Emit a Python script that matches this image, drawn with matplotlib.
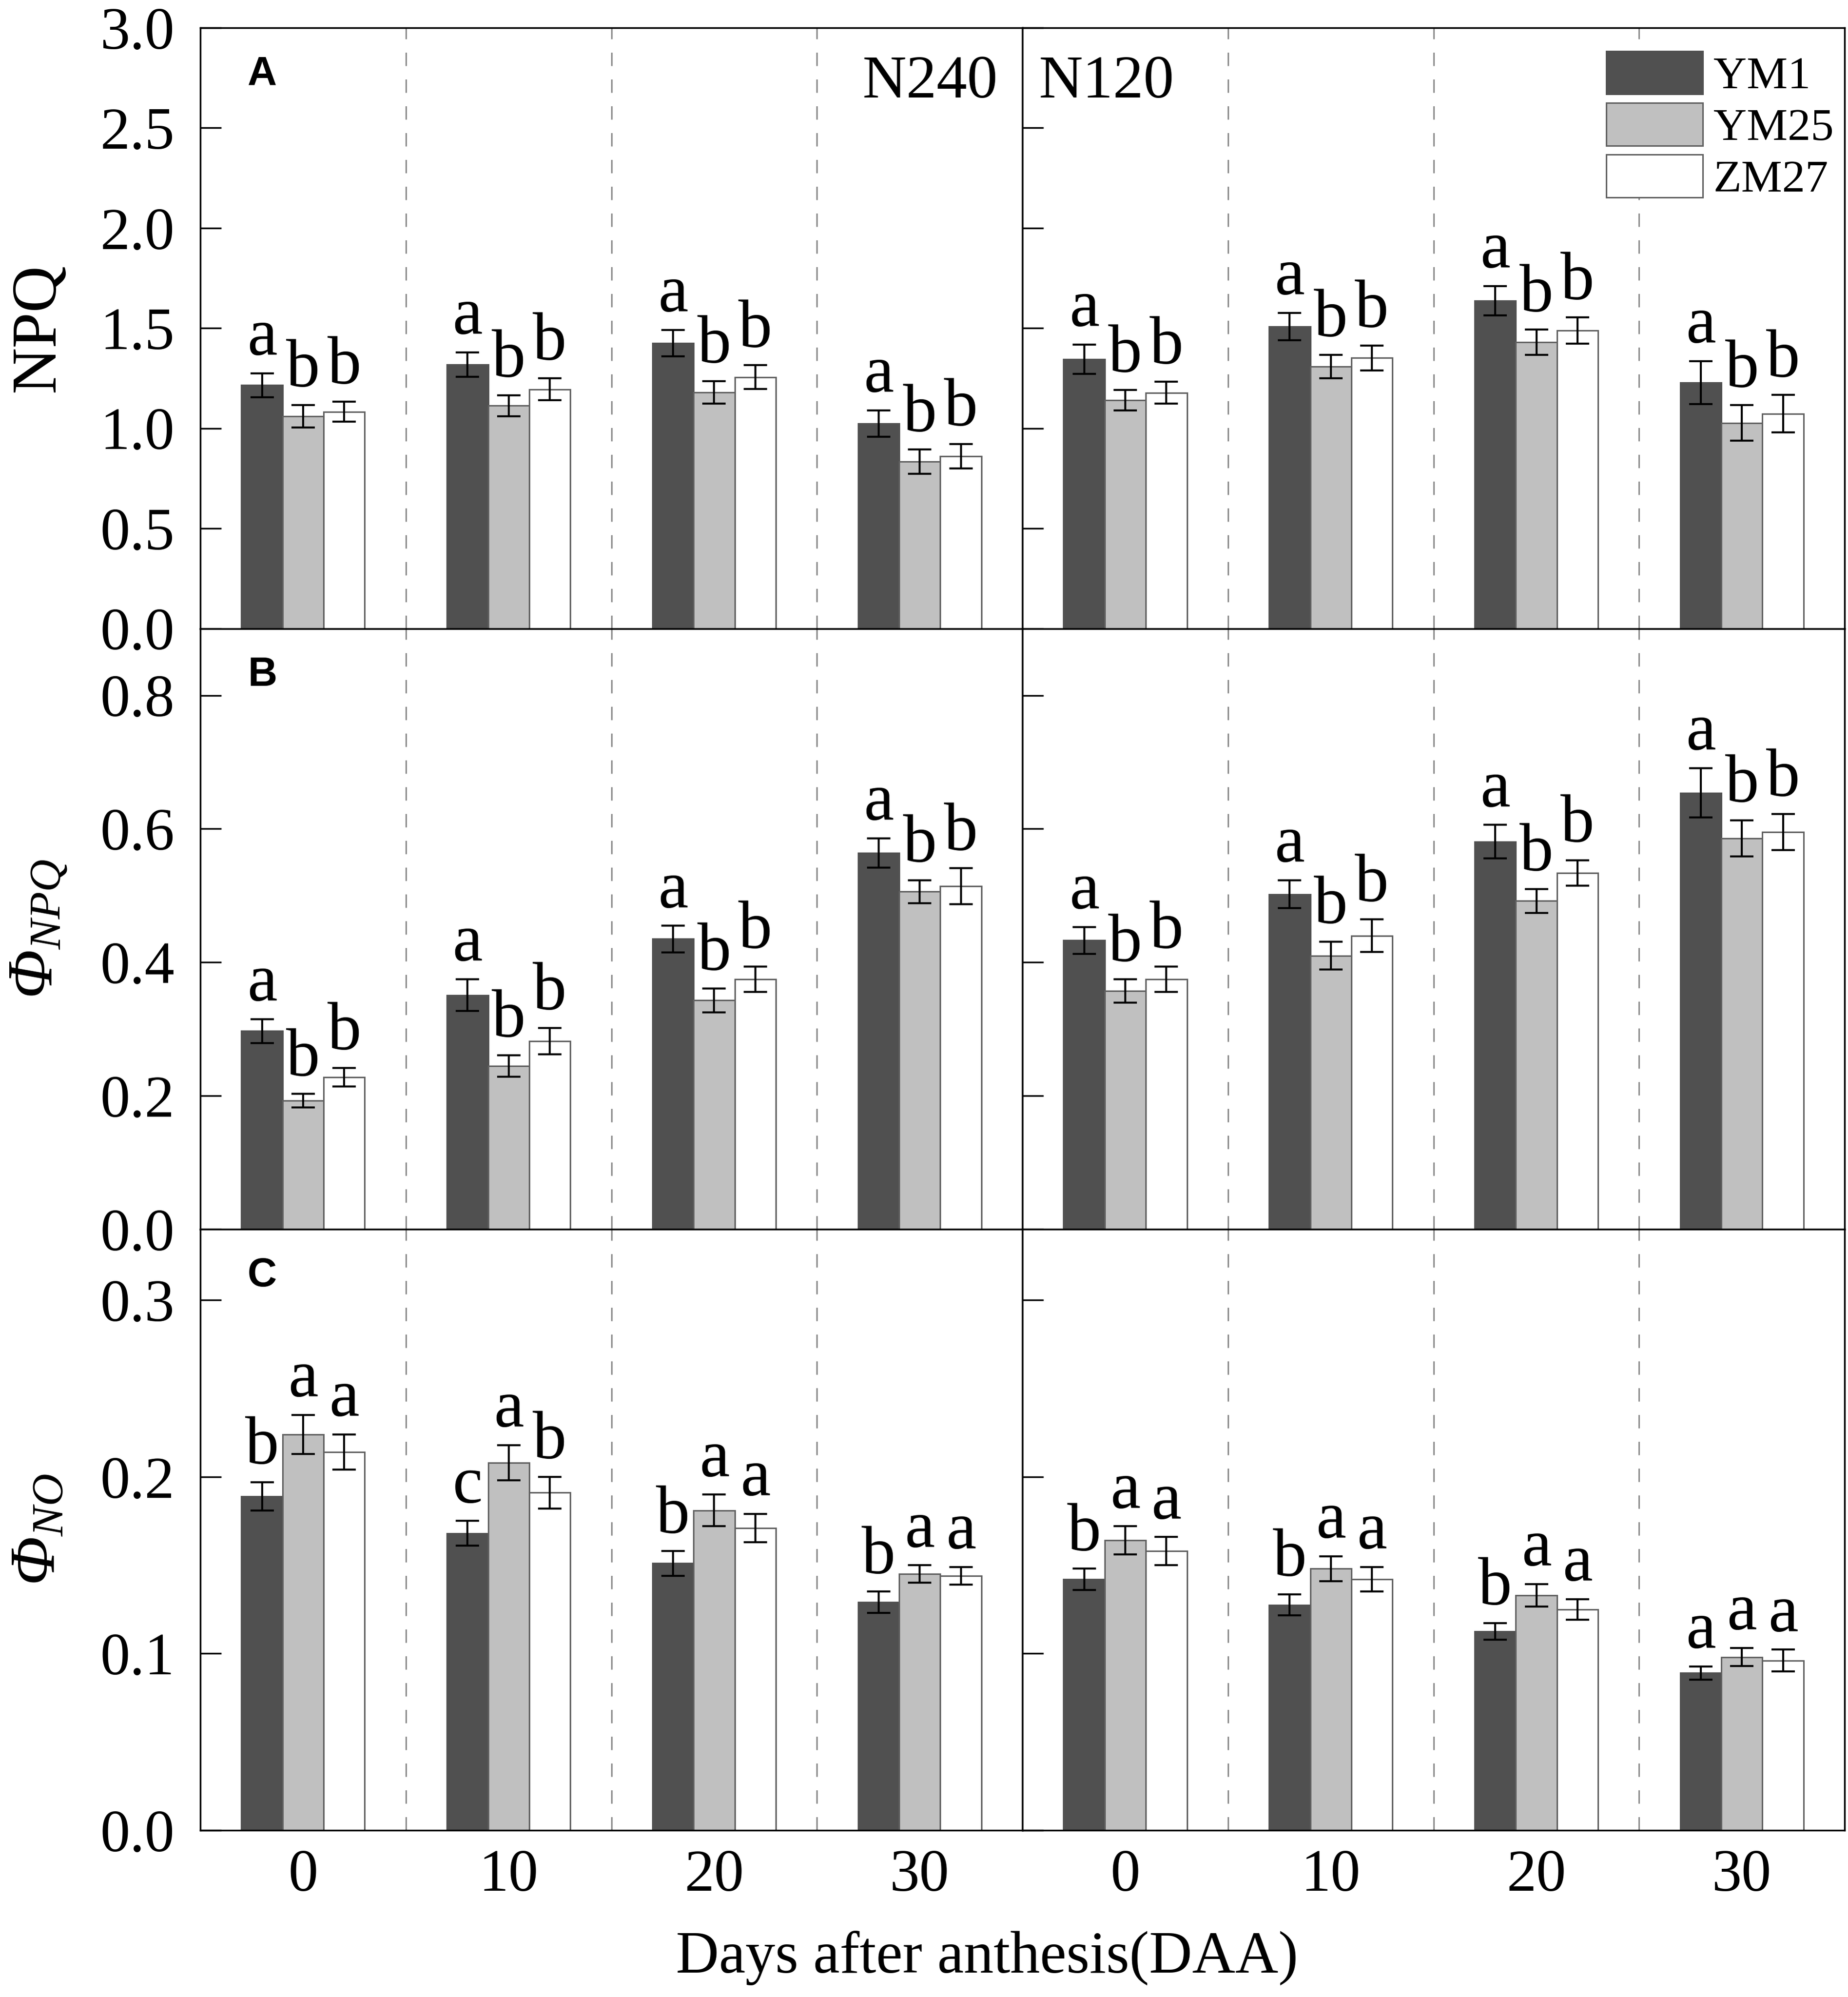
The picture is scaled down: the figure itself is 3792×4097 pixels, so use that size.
import matplotlib
matplotlib.use("Agg")
import matplotlib.pyplot as plt
import numpy as np

plt.rcParams['font.family'] = ['Liberation Serif', 'DejaVu Serif']
plt.rcParams['mathtext.fontset'] = 'custom'
plt.rcParams['mathtext.rm'] = 'Liberation Serif'
plt.rcParams['mathtext.it'] = 'Liberation Serif:italic'
# italic capital Greek: mathtext forces Greek capitals upright in \mathit, so borrow sf
plt.rcParams['mathtext.sf'] = 'Liberation Serif:italic'

days = [0, 10, 20, 30]
cultivars = ['YM1', 'YM25', 'ZM27']

# NPQ, rows = YM1, YM25, ZM27
npq_n240 = [[1.215, 1.319, 1.426, 1.024],
            [1.061, 1.113, 1.180, 0.833],
            [1.083, 1.195, 1.256, 0.861]]
npq_n240_err = [[0.060, 0.061, 0.066, 0.066],
                [0.056, 0.052, 0.056, 0.061],
                [0.049, 0.055, 0.059, 0.061]]
npq_n120 = [[1.346, 1.509, 1.637, 1.228],
            [1.140, 1.308, 1.430, 1.027],
            [1.178, 1.352, 1.488, 1.073]]
npq_n120_err = [[0.073, 0.068, 0.073, 0.108],
                [0.051, 0.059, 0.063, 0.089],
                [0.054, 0.062, 0.066, 0.094]]
npq_n240_letters = ['abb', 'abb', 'abb', 'abb']
npq_n120_letters = ['abb', 'abb', 'abb', 'abb']

# Phi NPQ
phinpq_n240 = [[0.297, 0.351, 0.435, 0.564],
               [0.193, 0.245, 0.343, 0.506],
               [0.228, 0.282, 0.375, 0.514]]
phinpq_n240_err = [[0.018, 0.024, 0.020, 0.022],
                   [0.010, 0.016, 0.018, 0.017],
                   [0.014, 0.020, 0.019, 0.027]]
phinpq_n120 = [[0.433, 0.502, 0.581, 0.654],
               [0.357, 0.410, 0.492, 0.586],
               [0.375, 0.440, 0.534, 0.595]]
phinpq_n120_err = [[0.020, 0.021, 0.025, 0.037],
                   [0.0175, 0.021, 0.018, 0.027],
                   [0.019, 0.0245, 0.019, 0.027]]
phinpq_n240_letters = ['abb', 'abb', 'abb', 'abb']
phinpq_n120_letters = ['abb', 'abb', 'abb', 'abb']

# Phi NO
phino_n240 = [[0.189, 0.168, 0.151, 0.129],
              [0.224, 0.208, 0.181, 0.145],
              [0.214, 0.191, 0.171, 0.144]]
phino_n240_err = [[0.008, 0.007, 0.007, 0.006],
                  [0.011, 0.010, 0.009, 0.005],
                  [0.010, 0.009, 0.008, 0.005]]
phino_n120 = [[0.142, 0.1275, 0.1126, 0.089],
              [0.164, 0.148, 0.133, 0.098],
              [0.158, 0.142, 0.125, 0.096]]
phino_n120_err = [[0.006, 0.006, 0.0047, 0.0037],
                  [0.008, 0.007, 0.0064, 0.0052],
                  [0.008, 0.007, 0.0058, 0.0062]]
phino_n240_letters = ['baa', 'cab', 'baa', 'baa']
phino_n120_letters = ['baa', 'baa', 'baa', 'aaa']

ylabels = ['NPQ', r'$\mathsf{Φ}_{NPQ}$', r'$\mathsf{Φ}_{NO}$']
panel_tags = ['A', 'B', 'C']
ylims = [3.0, 0.9, 0.34]
yticks = [np.arange(0, 3.01, 0.5), np.arange(0, 0.81, 0.2), np.arange(0, 0.31, 0.1)]

fills = ['#505050', '#c0c0c0', 'white']
edges = ['#505050', '#606060', '#606060']


def draw(ax, means, errs, letters):
    x = np.arange(len(days))
    for i, c in enumerate(cultivars):
        xs = x + (i - 1) * 0.2
        ax.bar(xs, means[i], 0.2, yerr=errs[i], color=fills[i], edgecolor=edges[i],
               linewidth=2.2, label=c, zorder=2,
               error_kw=dict(ecolor='black', elinewidth=3, capsize=17, capthick=3))
        for j in range(len(days)):
            ax.annotate(letters[j][i], (xs[j], means[i][j] + errs[i][j]),
                        xytext=(0, 27), textcoords='offset points',
                        ha='center', va='baseline', fontsize=100, zorder=5)
    for b in [0.5, 1.5, 2.5]:
        ax.axvline(b, color='#8c8c8c', lw=2.2, linestyle=(0, (9, 9)), zorder=1)
    ax.set_xlim(-0.5, 3.5)
    ax.set_xticks(x)
    ax.set_xticklabels([str(d) for d in days])
    ax.tick_params(axis='both', direction='in', length=31, width=2.5, labelsize=88)
    ax.tick_params(axis='y', pad=38)
    ax.tick_params(axis='x', pad=28)
    for s in ax.spines.values():
        s.set_linewidth(2.5)


fig, axes = plt.subplots(3, 2, figsize=(37.92, 40.97), dpi=100)
fig.subplots_adjust(left=0.1084, right=0.9982, top=0.9861, bottom=0.0835,
                    hspace=0, wspace=0)

data = [(npq_n240, npq_n240_err, npq_n240_letters, npq_n120, npq_n120_err, npq_n120_letters),
        (phinpq_n240, phinpq_n240_err, phinpq_n240_letters,
         phinpq_n120, phinpq_n120_err, phinpq_n120_letters),
        (phino_n240, phino_n240_err, phino_n240_letters,
         phino_n120, phino_n120_err, phino_n120_letters)]

for r, (m1, e1, l1, m2, e2, l2) in enumerate(data):
    axl, axr = axes[r]
    draw(axl, m1, e1, l1)
    draw(axr, m2, e2, l2)
    for ax in (axl, axr):
        ax.set_ylim(0, ylims[r])
        ax.set_yticks(yticks[r])
    axl.set_yticklabels(['%.1f' % v for v in yticks[r]])
    axr.tick_params(axis='y', labelleft=False)
    if r < 2:
        axl.tick_params(axis='x', labelbottom=False)
        axr.tick_params(axis='x', labelbottom=False)
    axl.text(0.0575, 0.905, panel_tags[r], transform=axl.transAxes, fontsize=60,
             fontweight='bold', family='Liberation Sans', va='baseline')
    pos = axl.get_position()
    fig.text(0.021, (pos.y0 + pos.y1) / 2, ylabels[r], rotation=90, ha='center',
             va='center', fontsize=95)

axes[0][0].text(0.970, 0.8836, 'N240', transform=axes[0][0].transAxes, ha='right',
                va='baseline', fontsize=90)
axes[0][1].text(0.02, 0.8836, 'N120', transform=axes[0][1].transAxes, ha='left',
                va='baseline', fontsize=90)
axes[0][1].legend(loc='upper left', bbox_to_anchor=(0.71, 0.961), frameon=False,
                  fontsize=68, handlelength=2.1, handleheight=1.06, labelspacing=0.1,
                  handletextpad=0.23, borderpad=0, borderaxespad=0)

fig.text(0.534, 0.0195, 'Days after anthesis(DAA)', ha='center', va='center', fontsize=88)

fig.savefig('out.png', dpi=100)
